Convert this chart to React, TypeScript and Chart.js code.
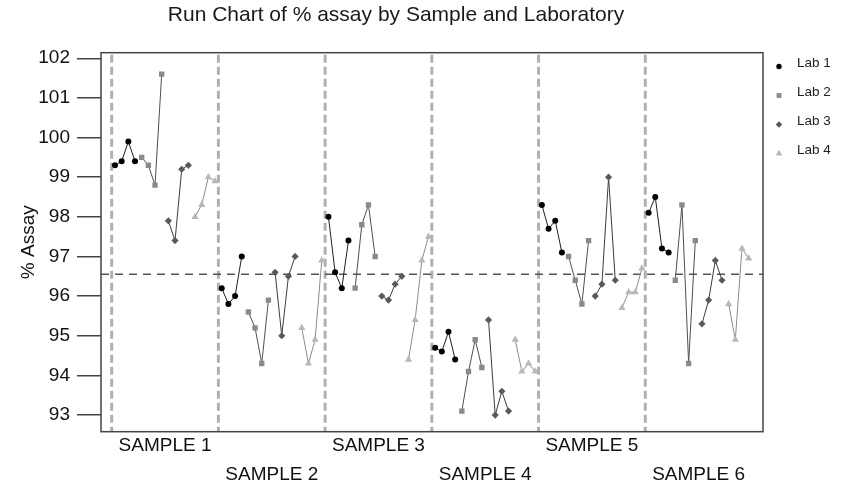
import React, { useEffect, useRef } from 'react';
import { Chart, registerables } from 'chart.js';

Chart.register(...registerables);

// ---------- data ----------
const chartTitle = 'Run Chart of % assay by Sample and Laboratory';
const yAxisTitle = '% Assay';
const samples = ['SAMPLE 1', 'SAMPLE 2', 'SAMPLE 3', 'SAMPLE 4', 'SAMPLE 5', 'SAMPLE 6'];
const labs = ['Lab 1', 'Lab 2', 'Lab 3', 'Lab 4'];
const repsPerLab = 4;

// 4 replicates per sample, samples 1..6 in order
const lab1 = [99.3, 99.4, 99.9, 99.4, 96.2, 95.8, 96.0, 97.0, 98.0, 96.6, 96.2, 97.4, 94.7, 94.6, 95.1, 94.4, 98.3, 97.7, 97.9, 97.1, 98.1, 98.5, 97.2, 97.1];
const lab2 = [99.5, 99.3, 98.8, 101.6, 95.6, 95.2, 94.3, 95.9, 96.2, 97.8, 98.3, 97.0, 93.1, 94.1, 94.9, 94.2, 97.0, 96.4, 95.8, 97.4, 96.4, 98.3, 94.3, 97.4];
const lab3 = [97.9, 97.4, 99.2, 99.3, 96.6, 95.0, 96.5, 97.0, 96.0, 95.9, 96.3, 96.5, 95.4, 93.0, 93.6, 93.1, 96.0, 96.3, 99.0, 96.4, 95.3, 95.9, 96.9, 96.4];
const lab4 = [98.0, 98.3, 99.0, 98.9, 95.2, 94.3, 94.9, 96.9, 94.4, 95.4, 96.9, 97.5, 94.9, 94.1, 94.3, 94.1, 95.7, 96.1, 96.1, 96.7, 95.8, 94.9, 97.2, 96.95];
const referenceLine = [96.55];
const yTicks = [93, 94, 95, 96, 97, 98, 99, 100, 101, 102];

// ---------- styles ----------
const FONT = '"Liberation Sans", Arial, Helvetica, sans-serif';
const labStyles = [
  { pointStyle: 'circle', color: '#000000', line: '#1e1e1e', radius: 3 },
  { pointStyle: 'rect', color: '#8a8a8a', line: '#505050', radius: 3.8 },
  { pointStyle: 'rectRot', color: '#5a5a5a', line: '#3c3c3c', radius: 3.6 },
  { pointStyle: 'triangle', color: '#b8b8b8', line: '#8c8c8c', radius: 4.2 },
];

const labValues = [lab1, lab2, lab3, lab4];
const slotsPerSample = labs.length * repsPerLab;

function buildPoints(values: number[], labIdx: number) {
  const pts: { x: number; y: number | null }[] = [];
  samples.forEach((_, s) => {
    for (let r = 0; r < repsPerLab; r++) {
      pts.push({ x: s * slotsPerSample + labIdx * repsPerLab + r + 1, y: values[s * repsPerLab + r] });
    }
    pts.push({ x: s * slotsPerSample + labIdx * repsPerLab + repsPerLab + 0.5, y: null });
  });
  return pts;
}

const sampleCenter = (s: number) => s * slotsPerSample + slotsPerSample / 2 + 0.5;
const sampleDivider = (s: number) => s * slotsPerSample + 0.5;

function drawMarker(ctx: CanvasRenderingContext2D, style: string, x: number, y: number, r: number) {
  ctx.beginPath();
  if (style === 'circle') {
    ctx.arc(x, y, r, 0, Math.PI * 2);
  } else if (style === 'rect') {
    const h = r * Math.SQRT1_2;
    ctx.rect(x - h, y - h, 2 * h, 2 * h);
  } else if (style === 'rectRot') {
    ctx.moveTo(x, y - r);
    ctx.lineTo(x + r, y);
    ctx.lineTo(x, y + r);
    ctx.lineTo(x - r, y);
    ctx.closePath();
  } else {
    const s = r * 1.5 / Math.sqrt(3) * 2;
    ctx.moveTo(x, y - r);
    ctx.lineTo(x + s / 2, y + r / 2);
    ctx.lineTo(x - s / 2, y + r / 2);
    ctx.closePath();
  }
  ctx.fill();
}

const decorPlugin = {
  id: 'runDecor',
  beforeDatasetsDraw(chart: any) {
    const { ctx, chartArea, scales } = chart;
    const { top, bottom, left, right } = chartArea;
    ctx.save();
    ctx.strokeStyle = '#b0b0b0';
    ctx.lineWidth = 3;
    ctx.setLineDash([8, 4]);
    samples.forEach((_, s) => {
      const px = scales.x.getPixelForValue(sampleDivider(s));
      ctx.beginPath();
      ctx.moveTo(px, top + 2);
      ctx.lineTo(px, bottom);
      ctx.stroke();
    });
    ctx.strokeStyle = '#555555';
    ctx.lineWidth = 1.5;
    ctx.setLineDash([8, 6]);
    const py = scales.y.getPixelForValue(referenceLine[0]);
    ctx.beginPath();
    ctx.moveTo(left, py);
    ctx.lineTo(right, py);
    ctx.stroke();
    ctx.restore();
  },
  afterDraw(chart: any) {
    const { ctx, chartArea } = chart;
    const { top, bottom, left, right } = chartArea;
    ctx.save();
    ctx.strokeStyle = '#444444';
    ctx.lineWidth = 1.5;
    ctx.setLineDash([]);
    ctx.strokeRect(left, top, right - left, bottom - top);
    // legend
    ctx.font = '13.5px ' + FONT;
    ctx.textBaseline = 'middle';
    ctx.textAlign = 'left';
    labs.forEach((lab, i) => {
      const ty = 63.5 + i * 29;
      const st = labStyles[i];
      ctx.fillStyle = st.color;
      drawMarker(ctx, st.pointStyle, 779, ty + 3, st.radius * 0.9);
      ctx.fillStyle = '#222222';
      ctx.fillText(lab, 797, ty);
    });
    ctx.restore();
  },
};

export default function App() {
  const canvasRef = useRef<HTMLCanvasElement | null>(null);

  useEffect(() => {
    if (!canvasRef.current) return;
    Chart.defaults.font.family = FONT;
    const datasets = labs.map((lab, i) => ({
      label: lab,
      data: buildPoints(labValues[i], i),
      showLine: true,
      spanGaps: false,
      borderColor: labStyles[i].line,
      borderWidth: 1,
      backgroundColor: labStyles[i].color,
      pointBackgroundColor: labStyles[i].color,
      pointBorderColor: labStyles[i].color,
      pointBorderWidth: 0,
      pointStyle: labStyles[i].pointStyle,
      pointRadius: labStyles[i].radius,
      tension: 0,
    }));

    const chart = new Chart(canvasRef.current, {
      type: 'scatter',
      data: { datasets: datasets as any },
      plugins: [decorPlugin],
      options: {
        responsive: false,
        animation: false,
        devicePixelRatio: 1,
        layout: { padding: { left: 29, right: 82, top: 0, bottom: 0 } },
        plugins: {
          legend: { display: false },
          tooltip: { enabled: false },
          title: {
            display: true,
            text: chartTitle,
            color: '#1a1a1a',
            font: { family: FONT, size: 21, weight: 'normal', lineHeight: 1.2 },
            padding: { top: 3, bottom: 24.5 },
          },
        },
        scales: {
          x: {
            type: 'linear',
            min: -1.1,
            max: 98.15,
            afterBuildTicks: (axis: any) => {
              axis.ticks = samples.map((_, s) => ({ value: sampleCenter(s) }));
            },
            afterFit: (axis: any) => {
              axis.height = 56.3;
            },
            grid: { display: false, drawTicks: false },
            border: { display: false },
            ticks: {
              autoSkip: false,
              maxRotation: 0,
              minRotation: 0,
              padding: 0,
              color: '#111111',
              font: { family: FONT, size: 19, lineHeight: 1.5 },
              callback: (value: any) => {
                const s = samples.findIndex((_, i) => Math.abs(sampleCenter(i) - Number(value)) < 0.01);
                if (s < 0) return '';
                return s % 2 === 0 ? samples[s] : ['', samples[s]];
              },
            },
          },
          y: {
            min: 92.58,
            max: 102.14,
            afterBuildTicks: (axis: any) => {
              axis.ticks = yTicks.map((v) => ({ value: v }));
            },
            afterFit: (axis: any) => {
              axis.width = 72;
            },
            grid: { drawOnChartArea: false, drawTicks: true, tickLength: 24, color: '#444444', lineWidth: 1.5 },
            border: { display: false },
            ticks: {
              padding: 7,
              color: '#111111',
              font: { family: FONT, size: 19 },
            },
            title: {
              display: true,
              text: yAxisTitle,
              color: '#111111',
              font: { family: FONT, size: 19 },
              padding: { top: -12, bottom: 0 },
            },
          },
        },
      } as any,
    });
    return () => chart.destroy();
  }, []);

  return (
    <div style={{ position: 'fixed', left: 0, top: 0, width: 845, height: 488, background: '#ffffff' }}>
      <canvas ref={canvasRef} width={845} height={488} style={{ display: 'block', width: 845, height: 488 }} />
    </div>
  );
}
